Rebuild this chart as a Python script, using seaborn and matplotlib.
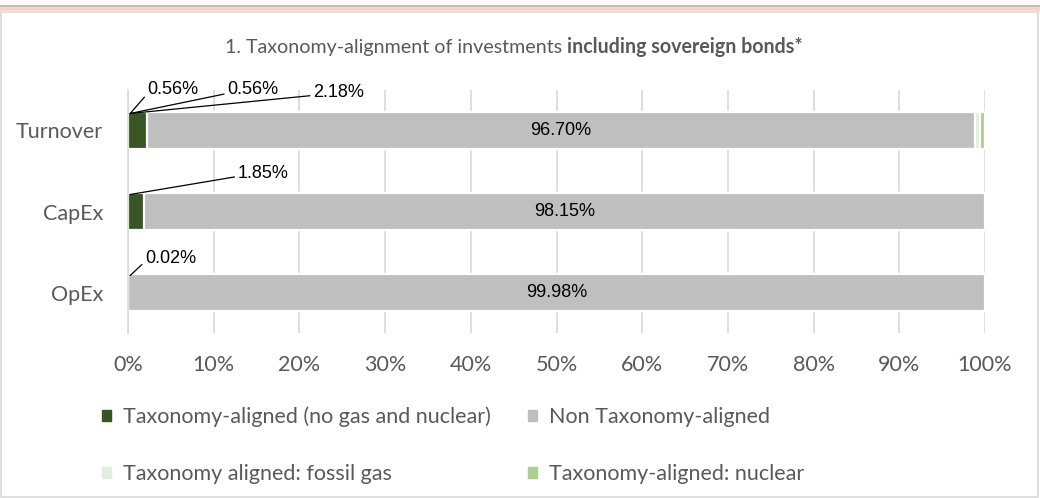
import numpy as np
import matplotlib
matplotlib.use('Agg')
import matplotlib.pyplot as plt
import matplotlib.patches as mpatches
import seaborn as sns

# data (percent of investments)
categories = ['Turnover', 'CapEx', 'OpEx']
aligned_no_gas_nuclear = [2.18, 1.85, 0.02]
non_aligned = [96.70, 98.15, 99.98]
aligned_fossil_gas = [0.56, 0.00, 0.00]
aligned_nuclear = [0.56, 0.00, 0.00]
series_names = ['Taxonomy-aligned (no gas and nuclear)', 'Non Taxonomy-aligned',
                'Taxonomy aligned: fossil gas', 'Taxonomy-aligned: nuclear']
x_ticks = [0, 10, 20, 30, 40, 50, 60, 70, 80, 90, 100]

# some styling...
colors = ['#375623', '#BFBFBF', '#E2EFDA', '#A9D08E']
text_grey = '#595959'
line_grey = '#D9D9D9'

sns.set_theme(style='white')
plt.rcParams['font.family'] = ['Lato', 'DejaVu Sans']

fig = plt.figure(figsize=(10.4, 4.98), dpi=100)
ax = fig.add_axes([0.1231, 0.3313, 0.8240, 0.4880])

# stacked bars: draw the cumulative totals from the longest to the shortest
layers = [aligned_no_gas_nuclear, non_aligned, aligned_fossil_gas, aligned_nuclear]
cum = np.cumsum(np.array(layers), axis=0)
for i in range(len(layers) - 1, -1, -1):
    sns.barplot(x=cum[i], y=categories, orient='h', color=colors[i], saturation=1,
                width=0.46, edgecolor='white', linewidth=1.6, ax=ax)

ax.set_xlim(0, 100)
ax.set_ylim(2.5, -0.5)
ax.set_xticks(x_ticks)
ax.set_xticklabels([f'{t}%' for t in x_ticks])
ax.set_xlabel('')
ax.set_ylabel('')
ax.set_axisbelow(True)
ax.grid(axis='x', color=line_grey, linewidth=1.2)
ax.grid(axis='y', visible=False)
for side in ['top', 'right', 'bottom']:
    ax.spines[side].set_visible(False)
ax.spines['left'].set_color(line_grey)
ax.spines['left'].set_linewidth(1.2)
ax.set_yticks([-0.5, 0.5, 1.5, 2.5], minor=True)
ax.tick_params(axis='y', which='minor', length=5, width=1.2, color=line_grey, direction='out')
ax.tick_params(axis='y', which='major', length=0, pad=18, labelsize=15.5, labelcolor=text_grey)
ax.tick_params(axis='x', which='major', length=0, pad=16, labelsize=15.5, labelcolor=text_grey)

# labels inside the big grey segments
for row, (start, val) in enumerate(zip(aligned_no_gas_nuclear, non_aligned)):
    ax.text(start + val / 2, row, f'{val:.2f}%', ha='center', va='center',
            fontsize=13, family='Liberation Sans', color='black')

# callout labels for the thin segments (row, value, label x, label y offset)
callouts = [
    (0, aligned_fossil_gas[0], 2.3, -0.50),
    (0, aligned_nuclear[0], 11.6, -0.50),
    (0, aligned_no_gas_nuclear[0], 21.6, -0.475),
    (1, aligned_no_gas_nuclear[1], 12.8, -0.475),
    (2, aligned_no_gas_nuclear[2], 2.0, -0.425),
]
for row, val, lx, dy in callouts:
    ax.annotate(f'{val:.2f}%', xy=(0.25, row - 0.21), xytext=(lx, row + dy),
                ha='left', va='center', fontsize=13, family='Liberation Sans',
                color='black', annotation_clip=False,
                arrowprops=dict(arrowstyle='-', color='black', lw=0.9,
                                shrinkA=0, shrinkB=0, relpos=(0, 0.3)))

# legend, filled column-wise so the rows read like the reference
handles = [mpatches.Patch(color=c) for c in colors]
order = [0, 2, 1, 3]
fig.legend([handles[i] for i in order], [series_names[i] for i in order],
           loc='upper left', bbox_to_anchor=(0.088, 0.205), ncol=2, frameon=False,
           fontsize=15.5, labelcolor=text_grey, handlelength=0.4, handleheight=0.4,
           handletextpad=0.55, columnspacing=1.75, labelspacing=1.7, borderpad=0)

# title with a bold part
fig.canvas.draw()
renderer = fig.canvas.get_renderer()
t1 = fig.text(0, 0.905, '1. Taxonomy-alignment of investments ', fontsize=14.1,
              color=text_grey, va='center')
t2 = fig.text(0, 0.905, 'including sovereign bonds*', fontsize=14.1, color=text_grey,
              va='center', fontweight='bold')
w1 = t1.get_window_extent(renderer).width
w2 = t2.get_window_extent(renderer).width
x0 = 514 - (w1 + w2) / 2
t1.set_x(x0 / fig.bbox.width)
t2.set_x((x0 + w1) / fig.bbox.width)

# outer frame like the source document
fig.patches.append(mpatches.Rectangle((0.0005, 0.003), 0.998, 0.972, transform=fig.transFigure,
                                      fill=False, edgecolor=line_grey, linewidth=1.2))
fig.patches.append(mpatches.Rectangle((0, 0.976), 1, 0.004, transform=fig.transFigure,
                                      color='#F2DDD0', linewidth=0))
fig.patches.append(mpatches.Rectangle((0, 0.980), 1, 0.006, transform=fig.transFigure,
                                      color='#F6D3BE', linewidth=0))
fig.patches.append(mpatches.Rectangle((0, 0.986), 1, 0.004, transform=fig.transFigure,
                                      color='#BDBDBD', linewidth=0))

plt.savefig('out.png', dpi=100)
